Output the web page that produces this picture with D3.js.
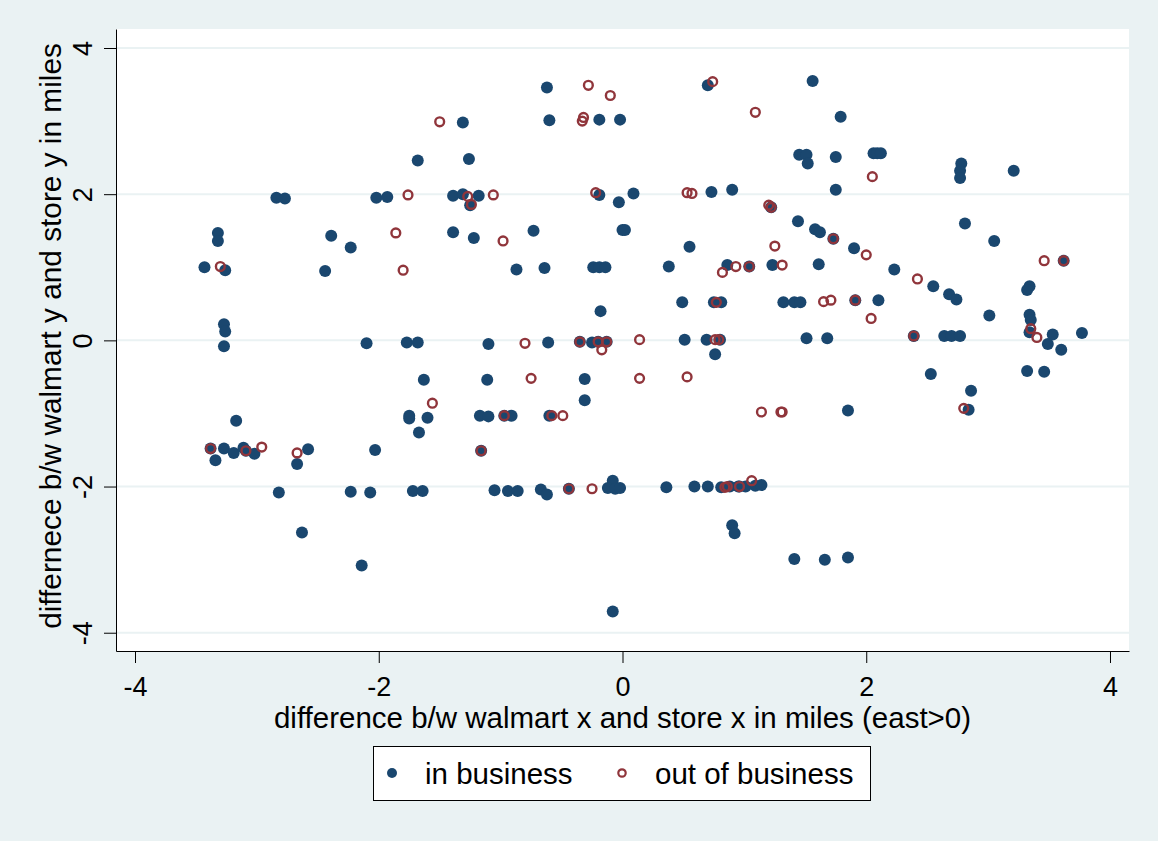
<!DOCTYPE html>
<html>
<head>
<meta charset="utf-8">
<script src="https://cdn.jsdelivr.net/npm/d3@7"></script>
<style>
  body { margin: 0; background: #eaf2f3; }
  text { font-family: "Liberation Sans", Arial, sans-serif; fill: #000; }
</style>
</head>
<body>
<div id="scatter"></div>
<script>
// in business (filled navy dots)
var inX = [-3.43, -3.32, -3.32, -3.26, -3.27, -3.26, -3.27, -2.84, -2.77, -2.02, -1.93, -2.39, -2.23, -2.44, -2.10,
    -3.38, -3.27, -3.34, -3.19, -3.11, -3.09, -3.02, -3.17, -2.67, -2.58, -2.03, -2.82, -2.23, -2.07, -2.63, -2.14,
    -0.62, -1.31, -0.60, -0.19, -0.02, -1.68, -1.26, -1.39, -1.31, -1.25, -1.18, -1.39, -1.22, -0.73, -0.87, -0.64,
    -0.24, -0.19, -0.14, -0.18, -0.19, -0.03, 0.00, 0.02, 0.09, -1.77, -1.68, -1.10, -0.61, -0.35, -0.25, -0.20, -0.13,
    -1.63, -1.11, -0.31, -0.31, -1.75, -1.75, -1.60, -1.67, -1.17, -1.10, -0.97, -0.91, -0.60, -1.16, -1.72, -1.64,
    -1.05, -0.94, -0.86, -0.67, -0.62, -0.44, -0.08, -0.12, -0.06, -0.02, -0.08,
    0.70, 1.56, 1.79, 1.45, 1.51, 1.52, 1.75, 2.06, 2.09, 2.12, 0.73, 0.90, 1.75, 1.22, 1.44, 1.58, 1.62, 1.73, 1.90,
    0.55, 0.38, 0.86, 1.04, 1.23, 1.61, 0.49, 0.75, 0.81, 1.32, 1.41, 1.46, 1.91, 2.10, 0.51, 0.69, 0.80, 1.51, 1.68,
    0.76, 1.85, 0.36, 0.59, 0.70, 0.81, 0.88, 0.95, 1.01, 1.09, 1.14, 0.96, 0.90, 0.92, 1.41, 1.66, 1.85,
    2.78, 2.77, 2.77, 3.21, 2.81, 3.05, 3.62, 2.23, 2.55, 2.68, 2.74, 3.01, 3.34, 3.32, 3.34, 3.35, 3.34, 3.53, 3.77,
    2.39, 2.64, 2.70, 2.77, 3.49, 3.60, 2.53, 3.32, 3.46, 2.86, 2.84];
var inY = [1.00, 1.47, 1.36, 0.96, 0.22, 0.12, -0.08, 1.95, 1.94, 1.95, 1.96, 1.43, 1.27, 0.95, -0.04,
    -1.48, -1.48, -1.64, -1.54, -1.47, -1.51, -1.55, -1.10, -1.69, -1.49, -1.50, -2.08, -2.07, -2.08, -2.63, -3.08,
    3.46, 2.98, 3.01, 3.02, 3.02, 2.46, 2.48, 1.98, 2.00, 1.85, 1.98, 1.48, 1.40, 1.50, 0.97, 0.99,
    1.00, 1.00, 1.00, 0.40, 1.99, 1.89, 1.51, 1.51, 2.01, -0.03, -0.03, -0.05, -0.03, -0.02, -0.03, -0.02, -0.02,
    -0.54, -0.54, -0.53, -0.82, -1.03, -1.07, -1.06, -1.26, -1.03, -1.04, -1.03, -1.03, -1.03, -1.51, -2.06, -2.06,
    -2.05, -2.06, -2.06, -2.04, -2.11, -2.03, -1.92, -2.02, -2.03, -2.02, -3.71,
    3.49, 3.55, 3.06, 2.54, 2.54, 2.42, 2.51, 2.56, 2.56, 2.56, 2.03, 2.06, 2.06, 1.82, 1.63, 1.52, 1.48, 1.39, 1.26,
    1.28, 1.01, 1.03, 1.01, 1.03, 1.04, 0.52, 0.52, 0.52, 0.52, 0.52, 0.52, 0.55, 0.55, 0.01, 0.01, 0.01, 0.03, 0.03,
    -0.19, -0.96, -2.01, -2.00, -2.00, -2.01, -2.00, -2.00, -2.00, -1.99, -1.98, -2.00, -2.53, -2.64, -2.99, -3.00, -2.97,
    2.42, 2.32, 2.22, 2.32, 1.60, 1.36, 1.09, 0.97, 0.74, 0.63, 0.56, 0.34, 0.74, 0.69, 0.35, 0.28, 0.11, 0.08, 0.10,
    0.06, 0.06, 0.06, 0.06, -0.05, -0.13, -0.46, -0.42, -0.43, -0.69, -0.95];

// out of business (hollow maroon circles)
var outX = [-3.30, -3.38, -3.09, -2.96, -2.67, -1.50, -0.28, -0.10, -0.33, -0.32, -1.76, -1.27, -1.24, -1.06, -1.86,
    -0.98, -1.80, -0.22, -0.80, -0.35, -0.20, -0.17, -0.13, -0.75, -1.56, -0.97, -0.58, -0.49, -1.16, -0.44, -0.25,
    0.74, 1.09, 2.05, 0.53, 0.57, 1.20, 1.22, 1.73, 2.00, 1.25, 0.82, 0.93, 1.04, 1.31, 0.77, 1.65, 1.71, 1.91, 2.04,
    0.14, 0.76, 0.79, 0.14, 0.53, 1.14, 1.30, 1.31, 0.84, 0.86, 0.96, 1.06, 3.46, 3.62, 2.42, 3.35, 3.40, 2.39, 2.80];
var outY = [1.01, -1.48, -1.51, -1.46, -1.54, 2.99, 3.49, 3.35, 3.00, 3.05, 1.99, 1.97, 1.86, 1.99, 1.47,
    1.36, 0.96, 2.02, -0.04, -0.02, -0.02, -0.13, -0.02, -0.52, -0.86, -1.03, -1.03, -1.03, -1.51, -2.03, -2.03,
    3.54, 3.12, 2.24, 2.02, 2.01, 1.85, 1.82, 1.39, 1.17, 1.29, 0.93, 1.01, 1.01, 1.03, 0.52, 0.53, 0.55, 0.55, 0.30,
    0.01, 0.01, 0.01, -0.52, -0.50, -0.98, -0.98, -0.98, -2.01, -2.00, -2.00, -1.92, 1.09, 1.09, 0.84, 0.16, 0.04, 0.06, -0.93];

var xTicks = [-4, -2, 0, 2, 4];
var yTicks = [-4, -2, 0, 2, 4];
var seriesNames = ["in business", "out of business"];

var width = 1158, height = 841;
var plot = {left: 116, right: 1129, top: 29, bottom: 651};
var navy = "#1a476f", maroon = "#90353b", bg = "#eaf2f3";

// plain hyphen minus, like the original
var fmt = function(d) { return String(d); };

var svg = d3.select("#scatter")
  .append("svg")
    .attr("width", width)
    .attr("height", height);

svg.append("rect")
    .attr("width", width)
    .attr("height", height)
    .attr("fill", bg);

// plot region
svg.append("rect")
    .attr("x", plot.left)
    .attr("y", plot.top)
    .attr("width", plot.right - plot.left)
    .attr("height", plot.bottom - plot.top)
    .attr("fill", "#fff");

var x = d3.scaleLinear()
    .domain([-4.156, 4.156])
    .range([plot.left, plot.right]);
var y = d3.scaleLinear()
    .domain([-4.25, 4.26])
    .range([plot.bottom, plot.top]);

// grid
svg.selectAll("yGrid")
    .data(yTicks)
    .enter()
    .append("line")
    .attr("x1", plot.left)
    .attr("x2", plot.right)
    .attr("y1", function(d) { return y(d); })
    .attr("y2", function(d) { return y(d); })
    .attr("stroke", bg)
    .attr("stroke-width", 2);

// X axis
var xAxis = svg.append("g")
    .attr("transform", "translate(0," + plot.bottom + ")")
    .call(d3.axisBottom(x).tickValues(xTicks).tickFormat(fmt).tickSize(12).tickSizeOuter(0));
xAxis.selectAll("text")
    .attr("y", 45)
    .attr("dy", 0)
    .style("font-size", "27px")
    .style("font-family", "Liberation Sans, Arial, sans-serif");

// Y axis, labels turned like the original
var yAxis = svg.append("g")
    .attr("transform", "translate(" + plot.left + ",0)")
    .call(d3.axisLeft(y).tickValues(yTicks).tickFormat(fmt).tickSize(12).tickSizeOuter(0));
yAxis.selectAll("text")
    .attr("x", 0)
    .attr("dy", 0)
    .attr("transform", "translate(-24,0) rotate(-90)")
    .style("text-anchor", "middle")
    .style("font-size", "27px")
    .style("font-family", "Liberation Sans, Arial, sans-serif");

svg.selectAll(".domain, .tick line").attr("stroke", "#000");

// axis titles
svg.append("text")
    .attr("x", (plot.left + plot.right) / 2)
    .attr("y", 728)
    .attr("text-anchor", "middle")
    .style("font-size", "29.5px")
    .text("difference b/w walmart x and store x in miles (east>0)");

svg.append("text")
    .attr("transform", "translate(61," + ((plot.top + plot.bottom) / 2 - 4) + ") rotate(-90)")
    .attr("text-anchor", "middle")
    .style("font-size", "29.8px")
    .text("differnece b/w walmart y and store y in miles");

// points: in business first, then the hollow ones on top
var inData = inX.map(function(v, i) { return {x: v, y: inY[i]}; });
var outData = outX.map(function(v, i) { return {x: v, y: outY[i]}; });

svg.append("g")
    .selectAll("circle")
    .data(inData)
    .enter().append("circle")
    .attr("cx", function(d) { return x(d.x); })
    .attr("cy", function(d) { return y(d.y); })
    .attr("r", 6)
    .attr("fill", navy);

svg.append("g")
    .selectAll("circle")
    .data(outData)
    .enter().append("circle")
    .attr("cx", function(d) { return x(d.x); })
    .attr("cy", function(d) { return y(d.y); })
    .attr("r", 4.4)
    .attr("fill", "none")
    .attr("stroke", maroon)
    .attr("stroke-width", 2.4);

// legend
var legend = svg.append("g");
legend.append("rect")
    .attr("x", 373.5)
    .attr("y", 746.5)
    .attr("width", 497)
    .attr("height", 54)
    .attr("fill", "#fff")
    .attr("stroke", "#000")
    .attr("stroke-width", 1);
legend.append("circle")
    .attr("cx", 392)
    .attr("cy", 773)
    .attr("r", 5)
    .attr("fill", navy);
legend.append("circle")
    .attr("cx", 622)
    .attr("cy", 773)
    .attr("r", 3.7)
    .attr("fill", "none")
    .attr("stroke", maroon)
    .attr("stroke-width", 2.2);
legend.selectAll("text")
    .data(seriesNames)
    .enter().append("text")
    .attr("x", function(d, i) { return i === 0 ? 425 : 655; })
    .attr("y", 784)
    .style("font-size", "29.5px")
    .text(function(d) { return d; });
</script>
</body>
</html>
